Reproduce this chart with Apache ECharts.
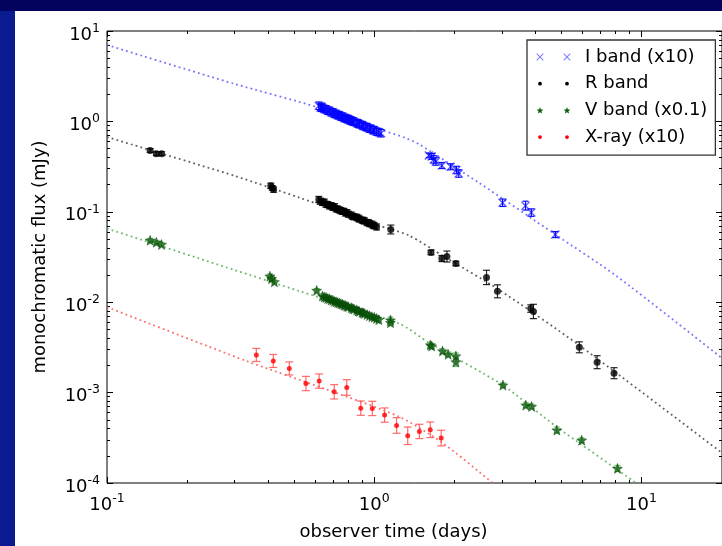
<!DOCTYPE html>
<html><head><meta charset="utf-8">
<script src="https://cdn.jsdelivr.net/npm/echarts@6/dist/echarts.min.js"></script>
<style>html,body{margin:0;padding:0;background:#0a1a91;} #c{width:722px;height:546px;}</style>
</head><body><div id="c"></div>
<script>
// ---------------- DATA ----------------
const seriesNames = ['I band (x10)', 'R band', 'V band (x0.1)', 'X-ray (x10)'];
const xName = 'observer time (days)';
const yName = 'monochromatic flux (mJy)';
const xMajorTicks = [0.1, 1, 10];
const xMinorTicks = [0.2, 0.3, 0.4, 0.5, 0.6, 0.7, 0.8, 0.9, 2, 3, 4, 5, 6, 7, 8, 9, 20];
const yMajorTicks = [0.0001, 0.001, 0.01, 0.1, 1, 10];
const yMinorTicks = [0.0002, 0.0003, 0.0004, 0.0005, 0.0006, 0.0007, 0.0008, 0.0009,
  0.002, 0.003, 0.004, 0.005, 0.006, 0.007, 0.008, 0.009,
  0.02, 0.03, 0.04, 0.05, 0.06, 0.07, 0.08, 0.09,
  0.2, 0.3, 0.4, 0.5, 0.6, 0.7, 0.8, 0.9,
  2, 3, 4, 5, 6, 7, 8, 9];

// [time (days), flux (mJy), relative error]
const iBand = [
  [0.62,1.49,0.10],[0.63,1.42,0.10],[0.635,1.45,0.10],[0.64,1.41,0.10],[0.65,1.37,0.10],[0.66,1.36,0.10],
  [0.67,1.31,0.10],[0.68,1.31,0.10],[0.69,1.26,0.10],[0.70,1.26,0.10],[0.71,1.21,0.10],[0.72,1.21,0.10],
  [0.73,1.17,0.10],[0.74,1.17,0.10],[0.75,1.13,0.10],[0.76,1.13,0.10],[0.77,1.09,0.10],[0.78,1.09,0.10],
  [0.79,1.06,0.10],[0.80,1.06,0.10],[0.81,1.03,0.10],[0.82,1.02,0.10],[0.83,1.00,0.10],[0.84,0.99,0.10],
  [0.86,0.96,0.10],[0.87,0.95,0.10],[0.88,0.93,0.10],[0.90,0.91,0.10],[0.91,0.89,0.10],[0.93,0.87,0.10],
  [0.94,0.86,0.10],[0.96,0.83,0.10],[0.97,0.83,0.10],[0.99,0.80,0.10],[1.00,0.80,0.10],[1.02,0.77,0.10],
  [1.04,0.76,0.10],[1.06,0.74,0.10],
  [1.60,0.42,0.06],[1.64,0.41,0.08],[1.67,0.38,0.10],[1.70,0.36,0.10],[1.79,0.325,0.08],[1.93,0.315,0.08],
  [2.03,0.29,0.10],[2.07,0.265,0.10],[3.02,0.126,0.10],[3.68,0.117,0.12],[3.87,0.098,0.10],[4.76,0.056,0.08]
];
const rBand = [
  [0.145,0.477,0.05],[0.153,0.44,0.05],[0.160,0.44,0.05],[0.410,0.194,0.07],[0.415,0.184,0.06],[0.420,0.176,0.07],
  [0.62,0.137,0.08],[0.63,0.131,0.08],[0.64,0.127,0.08],[0.65,0.128,0.08],[0.66,0.121,0.08],[0.67,0.120,0.08],
  [0.68,0.116,0.08],[0.69,0.117,0.08],[0.70,0.112,0.08],[0.71,0.114,0.08],[0.72,0.108,0.08],[0.73,0.107,0.08],
  [0.74,0.105,0.08],[0.75,0.103,0.08],[0.76,0.101,0.08],[0.77,0.101,0.08],[0.78,0.097,0.08],[0.79,0.098,0.08],
  [0.80,0.094,0.08],[0.82,0.092,0.08],[0.83,0.089,0.08],[0.84,0.088,0.08],[0.86,0.087,0.08],[0.87,0.085,0.08],
  [0.88,0.083,0.08],[0.90,0.081,0.08],[0.91,0.080,0.08],[0.92,0.079,0.08],[0.94,0.076,0.08],[0.95,0.076,0.08],
  [0.96,0.074,0.08],[0.98,0.073,0.08],[0.99,0.071,0.08],[1.00,0.070,0.08],[1.02,0.068,0.08],
  [1.153,0.0637,0.12],[1.63,0.0355,0.06],[1.79,0.0304,0.08],[1.87,0.032,0.15],[2.02,0.0268,0.06],
  [2.63,0.0188,0.20],[2.89,0.0132,0.18],[3.85,0.0085,0.10],[3.94,0.0079,0.20],[5.85,0.00317,0.15],
  [6.82,0.00217,0.18],[7.89,0.00164,0.15]
];
const vBand = [
  [0.145,0.0484,0.05],[0.153,0.046,0.05],[0.160,0.0435,0.05],[0.407,0.0194,0.06],[0.413,0.0182,0.06],
  [0.423,0.0168,0.05],[0.609,0.0135,0.05],
  [0.64,0.0117,0.06],[0.65,0.0114,0.06],[0.66,0.0113,0.06],[0.67,0.0110,0.06],[0.68,0.0109,0.06],[0.69,0.0106,0.06],
  [0.70,0.0105,0.06],[0.71,0.0102,0.06],[0.72,0.0101,0.06],[0.73,0.0099,0.06],[0.74,0.0098,0.06],[0.75,0.0096,0.06],
  [0.76,0.0095,0.06],[0.77,0.0093,0.06],[0.78,0.0092,0.06],[0.79,0.0090,0.06],[0.80,0.0089,0.06],[0.82,0.0087,0.06],
  [0.83,0.0085,0.06],[0.84,0.0084,0.06],[0.86,0.0082,0.06],[0.87,0.0080,0.06],[0.88,0.0079,0.06],[0.90,0.0077,0.06],
  [0.91,0.0076,0.06],[0.92,0.0075,0.06],[0.94,0.0073,0.06],[0.96,0.0071,0.06],[0.98,0.0069,0.06],[1.00,0.0068,0.06],
  [1.02,0.0066,0.06],[1.04,0.0064,0.06],
  [1.15,0.00634,0.08],[1.15,0.00593,0.08],[1.62,0.00336,0.06],[1.64,0.00327,0.06],[1.80,0.00288,0.06],
  [1.89,0.00265,0.06],[2.02,0.00254,0.08],[2.02,0.00218,0.12],[3.03,0.00121,0.06],[3.69,0.000726,0.06],
  [3.88,0.000703,0.06],[4.82,0.000385,0.08],[5.97,0.000298,0.06],[8.13,0.000145,0.08]
];
const xRay = [
  [0.362,0.00261,0.18],[0.419,0.00224,0.18],[0.481,0.00185,0.18],[0.555,0.00126,0.20],[0.622,0.00134,0.20],
  [0.708,0.00102,0.20],[0.789,0.00114,0.22],[0.890,0.000673,0.20],[0.983,0.000668,0.20],[1.093,0.000564,0.20],
  [1.212,0.000433,0.22],[1.334,0.000333,0.25],[1.475,0.000372,0.20],[1.62,0.000388,0.22],[1.78,0.000314,0.22]
];
// model curves [time, flux]
const iModel = [[0.1,7.0],[0.3,2.6],[0.62,1.42],[1.07,0.80],[1.3,0.66],[1.47,0.56],[2.46,0.21],[4.76,0.056],[8,0.0198],[20,0.0024]];
const rModel = [[0.1,0.671],[0.3,0.25],[0.524,0.1435],[1.04,0.0705],[1.35,0.0546],[1.82,0.0321],[2.92,0.0138],[5.85,0.00333],[20,0.000215]];
const vModel = [[0.1,0.0653],[0.3,0.0227],[0.524,0.01327],[1.24,0.0058],[1.60,0.00357],[3.02,0.00121],[4.80,0.00042],[9.44,0.000102],[11,0.00007]];
const xModel = [[0.1,0.00883],[0.332,0.00224],[0.659,0.00109],[1.24,0.00054],[1.79,0.000281],[2.75,0.000102],[3.0,0.00008]];

// ---------------- STYLE / BUILD ----------------
const FONT = 'DejaVu Sans';
function bar(x1,y1,x2,y2,w){
  const dx=x2-x1, dy=y2-y1, L=Math.hypot(dx,dy), nx=-dy/L*w/2, ny=dx/L*w/2;
  const f=v=>v.toFixed(3);
  return 'M'+f(x1+nx)+','+f(y1+ny)+'L'+f(x2+nx)+','+f(y2+ny)+'L'+f(x2-nx)+','+f(y2-ny)+'L'+f(x1-nx)+','+f(y1-ny)+'Z';
}
function xShape(cx,cy,r,w){ return bar(cx-r,cy-r,cx+r,cy+r,w)+bar(cx-r,cy+r,cx+r,cy-r,w); }
function circ(cx,cy,r){ return 'M'+(cx+r)+','+cy+'A'+r+','+r+',0,1,1,'+(cx-r)+','+cy+'A'+r+','+r+',0,1,1,'+(cx+r)+','+cy+'Z'; }
function star(cx,cy,R){
  let s=''; const ri=R*0.42;
  for(let k=0;k<10;k++){ const a=-Math.PI/2+k*Math.PI/5; const rr=k%2?ri:R;
    s+=(k?'L':'M')+(cx+rr*Math.cos(a)).toFixed(3)+','+(cy+rr*Math.sin(a)).toFixed(3); }
  return s+'Z';
}
const BOX = 'M0,0L0.01,0L0.01,0.01ZM46.99,13.99L47,13.99L47,14Z';
const legendIcons = [
  'path://'+BOX+xShape(7,7,3.3,1.1)+xShape(34,7,3.3,1.1),
  'path://'+BOX+circ(7,7,1.9)+circ(34,7,1.9),
  'path://'+BOX+star(7,7.3,3.6)+star(34,7.3,3.6),
  'path://'+BOX+circ(7,7,1.9)+circ(34,7,1.9)
];
const legendColors = ['#8080ff', '#000000', '#0b5e0b', '#ff0000'];
const symX = 'path://'+xShape(5,5,4,1.4);
const symStar = 'path://'+star(5,5,5);

function sci(v){ const e=Math.round(Math.log10(v)); return '{b|10}{s|'+e+'}'; }
const rich = {
  b:{fontSize:18, lineHeight:18, padding:[8,0,0,0], fontFamily:FONT, color:'#000'},
  s:{fontSize:12.5, lineHeight:13, verticalAlign:'top', fontFamily:FONT, color:'#000'}
};
function xAx(pos, ticks, len, labels){
  const a = {type:'log', logBase:10, min:0.1, max:20, position:pos, gridIndex:0,
    axisLine:{show:false}, splitLine:{show:false}, minorTick:{show:false},
    axisTick:{show:true, inside:true, length:len, customValues:ticks, lineStyle:{color:'#000', width:1}},
    axisLabel:{show:false}};
  if (labels){
    a.axisLabel = {show:true, customValues:xMajorTicks, margin:9, formatter:sci, rich:rich};
    a.name = xName; a.nameLocation='middle'; a.nameGap=40;
    a.nameTextStyle = {fontSize:18, fontFamily:FONT, color:'#000', padding:[0,42,0,0]};
  }
  return a;
}
function yAx(pos, ticks, len, labels){
  const a = {type:'log', logBase:10, min:0.0001, max:10, position:pos, gridIndex:0,
    axisLine:{show:false}, splitLine:{show:false}, minorTick:{show:false},
    axisTick:{show:true, inside:true, length:len, customValues:ticks, lineStyle:{color:'#000', width:1}},
    axisLabel:{show:false}};
  if (labels){
    a.axisLabel = {show:true, customValues:yMajorTicks, margin:7, formatter:sci, rich:rich};
    a.name = yName; a.nameLocation='middle'; a.nameGap=58;
    a.nameTextStyle = {fontSize:18, fontFamily:FONT, color:'#000'};
  }
  return a;
}
function errSeries(name, pts, color, cap){
  return {type:'custom', name:name+' err', xAxisIndex:0, yAxisIndex:0, silent:true, clip:true, z:3,
    data: pts.map(p=>[p[0], p[1]/(1+p[2]), p[1]*(1+p[2])]),
    encode:{x:0, y:[1,2]},
    renderItem:(params, api)=>{
      const lo=api.coord([api.value(0), api.value(1)]), hi=api.coord([api.value(0), api.value(2)]);
      const h=cap/2, st={stroke:color, lineWidth:1.2};
      return {type:'group', children:[
        {type:'line', shape:{x1:lo[0],y1:lo[1],x2:hi[0],y2:hi[1]}, style:st},
        {type:'line', shape:{x1:lo[0]-h,y1:lo[1],x2:lo[0]+h,y2:lo[1]}, style:st},
        {type:'line', shape:{x1:hi[0]-h,y1:hi[1],x2:hi[0]+h,y2:hi[1]}, style:st}
      ]};
    }};
}
function modelSeries(pts, color){
  return {type:'line', data:pts, xAxisIndex:0, yAxisIndex:0, showSymbol:false, symbol:'none', silent:true,
    smooth:0.25, clip:true, z:2, lineStyle:{color:color, width:1.8, type:[1.8,3.2], opacity:0.85}};
}
function scat(name, pts, symbol, size, style){
  return {type:'scatter', name:name, data:pts.map(p=>[p[0],p[1]]), xAxisIndex:0, yAxisIndex:0,
    symbol:symbol, symbolSize:size, itemStyle:style, clip:true, z:4, silent:true};
}

const chart = echarts.init(document.getElementById('c'), null, {renderer:'canvas'});
chart.setOption({
  animation:false,
  backgroundColor:'#0a1a91',
  textStyle:{fontFamily:FONT},
  graphic:[
    {type:'rect', z:-100, silent:true, shape:{x:0,y:0,width:722,height:11}, style:{fill:'#03035f'}},
    {type:'rect', z:-100, silent:true, shape:{x:15,y:11,width:707,height:535}, style:{fill:'#ffffff'}}
  ],
  grid:{left:107, top:31, right:-2, bottom:62, show:true, borderColor:'#000', borderWidth:1, backgroundColor:'rgba(0,0,0,0)'},
  xAxis:[xAx('bottom', xMajorTicks, 6, true), xAx('bottom', xMinorTicks, 3, false),
         xAx('top', xMajorTicks, 6, false), xAx('top', xMinorTicks, 3, false)],
  yAxis:[yAx('left', yMajorTicks, 6, true), yAx('left', yMinorTicks, 3, false),
         yAx('right', yMajorTicks, 6, false), yAx('right', yMinorTicks, 3, false)],
  legend:{
    left:527, top:40, orient:'vertical', selectedMode:false,
    padding:[8,8,9,6], itemGap:8.7, itemWidth:47, itemHeight:14,
    borderColor:'#333', borderWidth:1.3, backgroundColor:'#fff', borderRadius:0,
    itemStyle:{borderWidth:0},
    textStyle:{fontSize:18, fontFamily:FONT, color:'#000'},
    data: seriesNames.map((n,i)=>({name:n, icon:legendIcons[i], itemStyle:{color:legendColors[i], opacity:1, borderWidth:0}}))
  },
  series:[
    modelSeries(iModel, '#5a5aff'),
    modelSeries(rModel, '#444444'),
    modelSeries(vModel, '#55aa55'),
    modelSeries(xModel, '#ff5555'),
    errSeries('I', iBand, 'rgba(0,0,255,0.95)', 6),
    errSeries('R', rBand, 'rgba(0,0,0,0.85)', 7),
    errSeries('V', vBand, 'rgba(90,190,90,0.85)', 6),
    errSeries('X', xRay, 'rgba(255,90,90,0.9)', 8),
    scat(seriesNames[0], iBand, symX, 9, {color:'rgba(0,0,255,0.8)'}),
    scat(seriesNames[1], rBand, 'circle', 7, {color:'#000'}),
    scat(seriesNames[2], vBand, symStar, 10, {color:'#0b5e0b', borderColor:'#063806', borderWidth:0.5}),
    scat(seriesNames[3], xRay, 'circle', 5, {color:'#ff0000'})
  ]
});
</script></body></html>
